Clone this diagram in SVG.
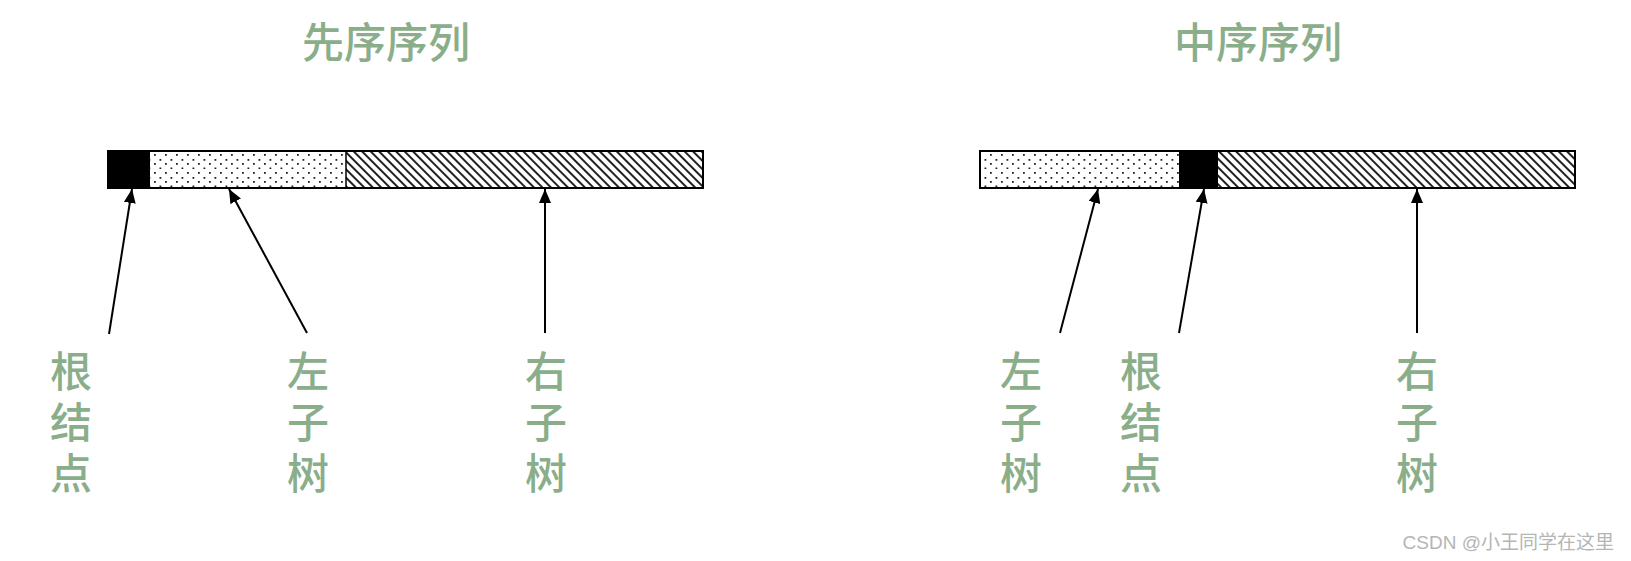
<svg xmlns="http://www.w3.org/2000/svg" width="1631" height="561" viewBox="0 0 1631 561">
<defs>
<pattern id="dots" patternUnits="userSpaceOnUse" x="108" y="151" width="11" height="18">
<rect x="2" y="3" width="1.8" height="1.8" fill="#222"/>
<rect x="7.5" y="8" width="1.8" height="1.8" fill="#222"/>
<rect x="2" y="12" width="1.8" height="1.8" fill="#222"/>
<rect x="7.5" y="16.5" width="1.8" height="1.8" fill="#222"/>
</pattern>
<pattern id="hatch" patternUnits="userSpaceOnUse" width="6" height="6" patternTransform="rotate(45)">
<rect width="6" height="6" fill="#fff"/>
<rect x="0" y="0" width="6" height="2" fill="#222"/>
</pattern>
<marker id="arr" viewBox="0 0 14 12" refX="14" refY="6" markerWidth="14" markerHeight="12" markerUnits="userSpaceOnUse" orient="auto">
<path d="M0,0 L14,6 L0,12 z" fill="#000"/>
</marker>
<style>
.t{font-family:"Noto Sans CJK SC","Noto Sans CJK JP",sans-serif;fill:#8aae8a;font-size:42px;text-anchor:middle;font-weight:500}
.v{font-family:"Noto Sans CJK SC","Noto Sans CJK JP",sans-serif;fill:#8aae8a;font-size:42px;writing-mode:vertical-rl;letter-spacing:9px;font-weight:500}
.c{stroke:#000;stroke-width:2;fill:none;marker-end:url(#arr)}
</style>
</defs>
<rect width="1631" height="561" fill="#fff"/>
<g id="title-pre"><text class="t" x="386" y="58">先序序列</text></g>
<g id="title-in"><text class="t" x="1258" y="58">中序序列</text></g>
<g id="bar-pre">
<rect x="108" y="151" width="42" height="37" fill="#000"/>
<rect x="150" y="151" width="196" height="37" fill="url(#dots)"/>
<rect x="346" y="151" width="357" height="37" fill="url(#hatch)"/>
<line x1="346" y1="151" x2="346" y2="188" stroke="#000" stroke-width="1.5"/>
<rect x="108" y="151" width="595" height="37" fill="none" stroke="#000" stroke-width="2"/>
</g>
<g id="bar-in">
<rect x="980" y="151" width="199" height="37" fill="url(#dots)"/>
<rect x="1179" y="151" width="39" height="37" fill="#000"/>
<rect x="1218" y="151" width="357" height="37" fill="url(#hatch)"/>
<rect x="980" y="151" width="595" height="37" fill="none" stroke="#000" stroke-width="2"/>
</g>
<g id="connectors">
<line class="c" x1="109" y1="334" x2="132" y2="189"/>
<line class="c" x1="307" y1="333" x2="229" y2="189"/>
<line class="c" x1="545" y1="333" x2="545" y2="189"/>
<line class="c" x1="1060" y1="333" x2="1098" y2="189"/>
<line class="c" x1="1179" y1="333" x2="1204" y2="189"/>
<line class="c" x1="1417" y1="333" x2="1417" y2="189"/>
</g>
<g id="lbl-root-pre"><text class="v" x="71" y="350">根结点</text></g>
<g id="lbl-left-pre"><text class="v" x="308" y="350">左子树</text></g>
<g id="lbl-right-pre"><text class="v" x="546" y="350">右子树</text></g>
<g id="lbl-left-in"><text class="v" x="1021" y="350">左子树</text></g>
<g id="lbl-root-in"><text class="v" x="1141" y="350">根结点</text></g>
<g id="lbl-right-in"><text class="v" x="1417" y="350">右子树</text></g>
<g id="watermark"><text x="1614" y="549" text-anchor="end" font-family="'Liberation Sans','Noto Sans CJK SC',sans-serif" font-size="19" fill="#b5b5b5">CSDN @小王同学在这里</text></g>
</svg>
